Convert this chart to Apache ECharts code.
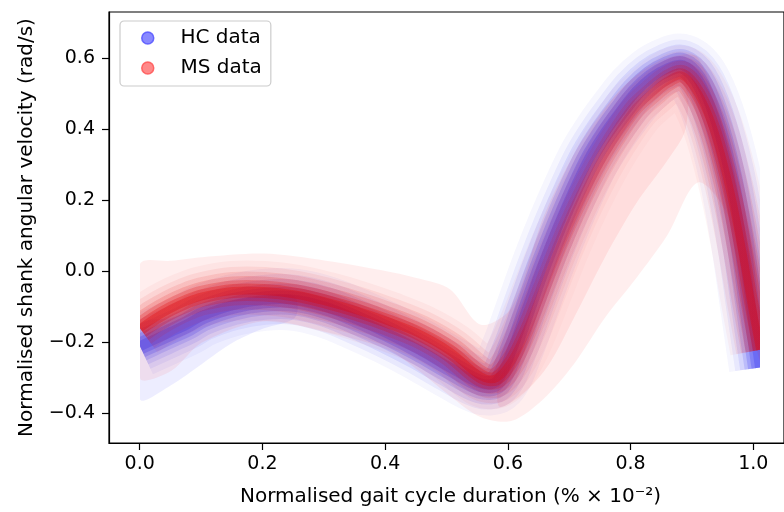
<!DOCTYPE html>
<html>
<head>
<meta charset="utf-8">
<script src="https://cdn.jsdelivr.net/npm/echarts@6/dist/echarts.min.js"></script>
<style>html,body{margin:0;padding:0;background:#fff;}#c{width:784px;height:512px;}</style>
</head>
<body>
<div id="c"></div>
<script>
// ---- data ----
const xTicks = [0, 0.2, 0.4, 0.6, 0.8, 1.0];
const yTicks = [-0.4, -0.2, 0, 0.2, 0.4, 0.6];

// centre of the dense cloud (normalised gait cycle -> angular velocity)
const hcX = [0, 0.025, 0.05, 0.075, 0.1, 0.15, 0.2, 0.25, 0.3, 0.35, 0.4, 0.45, 0.5, 0.55, 0.575, 0.6, 0.625, 0.65, 0.675, 0.7, 0.725, 0.75, 0.775, 0.8, 0.825, 0.85, 0.875, 0.9, 0.925, 0.95, 0.97, 0.985, 1.0];
const hcY = [-0.21, -0.19, -0.17, -0.15, -0.125, -0.095, -0.08, -0.08, -0.1, -0.135, -0.175, -0.22, -0.27, -0.315, -0.31, -0.22, -0.1, 0.02, 0.13, 0.23, 0.32, 0.39, 0.45, 0.505, 0.545, 0.57, 0.58, 0.54, 0.44, 0.28, 0.09, -0.09, -0.27];

const msX = [0, 0.025, 0.05, 0.075, 0.1, 0.15, 0.2, 0.25, 0.3, 0.35, 0.4, 0.45, 0.5, 0.55, 0.575, 0.6, 0.625, 0.65, 0.675, 0.7, 0.725, 0.75, 0.775, 0.8, 0.825, 0.85, 0.875, 0.9, 0.925, 0.95, 0.97, 0.985, 1.0];
const msY = [-0.16, -0.13, -0.105, -0.085, -0.07, -0.055, -0.055, -0.065, -0.085, -0.11, -0.14, -0.175, -0.225, -0.295, -0.3, -0.25, -0.16, -0.05, 0.06, 0.16, 0.25, 0.33, 0.4, 0.46, 0.5, 0.535, 0.55, 0.5, 0.4, 0.24, 0.07, -0.08, -0.22];

// faint outer envelope of the MS cloud
const msEnvX = [0, 0.05, 0.1, 0.2, 0.3, 0.4, 0.45, 0.5, 0.55, 0.6, 0.65, 0.7, 0.75, 0.8, 0.85, 0.9, 0.95, 1.0];
const msEnvHi = [0.02, 0.03, 0.04, 0.05, 0.03, 0.0, -0.02, -0.05, -0.15, -0.1, 0.15, 0.33, 0.46, 0.55, 0.6, 0.6, 0.35, -0.03];
const msEnvLo = [-0.3, -0.28, -0.2, -0.14, -0.17, -0.22, -0.28, -0.35, -0.41, -0.42, -0.36, -0.26, -0.13, -0.02, 0.1, 0.25, 0.15, -0.25];

// denser lagging part of the MS cloud, just right of the rising limb
const msInX = [0.58, 0.62, 0.66, 0.7, 0.75, 0.8, 0.85, 0.88];
const msInHi = [-0.3, -0.2, -0.02, 0.16, 0.33, 0.46, 0.53, 0.55];
const msInLo = [-0.38, -0.34, -0.26, -0.13, 0.04, 0.19, 0.31, 0.4];

// faint lower spread of the HC cloud at the start of the cycle
const hcEnvX = [0, 0.05, 0.1, 0.15, 0.2, 0.25];
const hcEnvHi = [-0.15, -0.13, -0.1, -0.08, -0.07, -0.07];
const hcEnvLo = [-0.36, -0.32, -0.26, -0.2, -0.16, -0.13];

// ---- chart ----
const fmt = v => (Math.round(v * 10) / 10).toFixed(1).replace('-', '\u2212');

// thick polyline through the cloud centre, clipped to the [0,1] cycle
function band(name, width, stroke, xs, ys, z) {
  return {
    type: 'custom', name: name, silent: true, z: z, animation: false,
    xAxisIndex: 1, yAxisIndex: 1, clip: true,
    data: [[xs[0], ys[0]]],
    renderItem: function (params, api) {
      const pts = xs.map((x, i) => api.coord([x, ys[i]]));
      return {
        type: 'polyline', shape: { points: pts, smooth: 0.35 },
        style: { fill: null, stroke: stroke, lineWidth: width, lineCap: 'butt', lineJoin: 'round' }
      };
    }
  };
}
function envelope(name, xs, hi, lo, fill, z) {
  return {
    type: 'custom', name: name, silent: true, z: z, animation: false,
    xAxisIndex: 1, yAxisIndex: 1, clip: true,
    data: [[xs[0], hi[0]]],
    renderItem: function (params, api) {
      const pts = [];
      for (let i = 0; i < xs.length; i++) pts.push(api.coord([xs[i], hi[i]]));
      for (let i = xs.length - 1; i >= 0; i--) pts.push(api.coord([xs[i], lo[i]]));
      return { type: 'polygon', shape: { points: pts, smooth: 0.3 }, style: { fill: fill } };
    }
  };
}
function msGrad(a) {
  return new echarts.graphic.LinearGradient(0, 0, 1, 0, [
    { offset: 0, color: 'rgba(225,0,0,' + a + ')' },
    { offset: 0.57, color: 'rgba(225,0,0,' + a + ')' },
    { offset: 0.64, color: 'rgba(225,0,0,' + (a * 0.5) + ')' },
    { offset: 0.8, color: 'rgba(225,0,0,' + (a * 0.55) + ')' },
    { offset: 0.87, color: 'rgba(225,0,0,' + (a * 0.85) + ')' },
    { offset: 1, color: 'rgba(225,0,0,' + a + ')' }
  ]);
}

const series = [];
series.push(envelope('HC spread', hcEnvX, hcEnvHi, hcEnvLo, 'rgba(0,0,255,0.07)', 1));
[[62, 0.04], [50, 0.06], [40, 0.09], [31, 0.13], [24, 0.17], [17, 0.2], [10, 0.2]].forEach((l, i) => {
  series.push(band('HC layer ' + i, l[0], 'rgba(20,20,240,' + l[1] + ')', hcX, hcY, 2));
});
series.push(envelope('MS spread', msEnvX, msEnvHi, msEnvLo, 'rgba(255,0,0,0.065)', 3));
series.push(envelope('MS lag', msInX, msInHi, msInLo, 'rgba(255,0,0,0.07)', 3));
[[60, 0.045], [48, 0.07], [38, 0.1], [29, 0.15], [21, 0.22], [14, 0.28], [8, 0.3]].forEach((l, i) => {
  series.push(band('MS layer ' + i, l[0], msGrad(l[1]), msX, msY, 4));
});
// legend entries
series.push({ type: 'scatter', name: 'HC data', data: [], xAxisIndex: 1, yAxisIndex: 1, itemStyle: { color: '#6b6bff' } });
series.push({ type: 'scatter', name: 'MS data', data: [], xAxisIndex: 1, yAxisIndex: 1, itemStyle: { color: '#ff6b6b' } });

const chart = echarts.init(document.getElementById('c'), null, { renderer: 'canvas' });
const font = 'DejaVu Sans';
chart.setOption({
  animation: false,
  backgroundColor: '#fff',
  grid: [
    { left: 109, top: 12, width: 682, height: 432, show: true, borderColor: '#000', borderWidth: 1.2, backgroundColor: 'transparent' },
    { left: 140, top: 12, width: 620, height: 432, show: false }
  ],
  legend: {
    left: 120, top: 21, orient: 'vertical',
    padding: [7, 9, 8, 21],
    backgroundColor: 'rgba(255,255,255,0.8)', borderColor: '#cccccc', borderWidth: 1.2, borderRadius: 4,
    itemWidth: 30, itemHeight: 12, itemGap: 10,
    formatter: name => '\u00a0\u00a0' + name,
    textStyle: { fontFamily: font, fontSize: 20, color: '#000', lineHeight: 20 },
    data: [
      { name: 'HC data', icon: 'circle', itemStyle: { color: '#6b6bff', borderColor: '#4f4fff', borderWidth: 1.5 } },
      { name: 'MS data', icon: 'circle', itemStyle: { color: '#ff6b6b', borderColor: '#ff4f4f', borderWidth: 1.5 } }
    ]
  },
  xAxis: [{
    type: 'value', min: -0.05, max: 1.05, gridIndex: 0,
    name: 'Normalised gait cycle duration (% \u00d7 10\u207b\u00b2)', nameLocation: 'middle', nameGap: 44,
    nameTextStyle: { fontFamily: font, fontSize: 20, color: '#000', padding: [0, 0, 0, 8] },
    axisLine: { show: true, onZero: false, lineStyle: { color: '#000', width: 1.2 } },
    axisTick: { show: true, length: 7, customValues: xTicks, lineStyle: { color: '#000', width: 1.2 } },
    axisLabel: { customValues: xTicks, formatter: fmt, fontFamily: font, fontSize: 19, color: '#000', margin: 12 },
    splitLine: { show: false }
  }, {
    type: 'value', min: 0, max: 1, gridIndex: 1, show: false
  }],
  yAxis: [{
    type: 'value', min: -0.485, max: 0.729, gridIndex: 0,
    name: 'Normalised shank angular velocity (rad/s)', nameLocation: 'middle', nameGap: 72,
    nameTextStyle: { fontFamily: font, fontSize: 20, color: '#000' },
    axisLine: { show: true, onZero: false, lineStyle: { color: '#000', width: 1.2 } },
    axisTick: { show: true, length: 7, customValues: yTicks, lineStyle: { color: '#000', width: 1.2 } },
    axisLabel: { customValues: yTicks, formatter: fmt, fontFamily: font, fontSize: 19, color: '#000', margin: 14 },
    splitLine: { show: false }
  }, {
    type: 'value', min: -0.485, max: 0.729, gridIndex: 1, show: false
  }],
  series: series
});
</script>
</body>
</html>
